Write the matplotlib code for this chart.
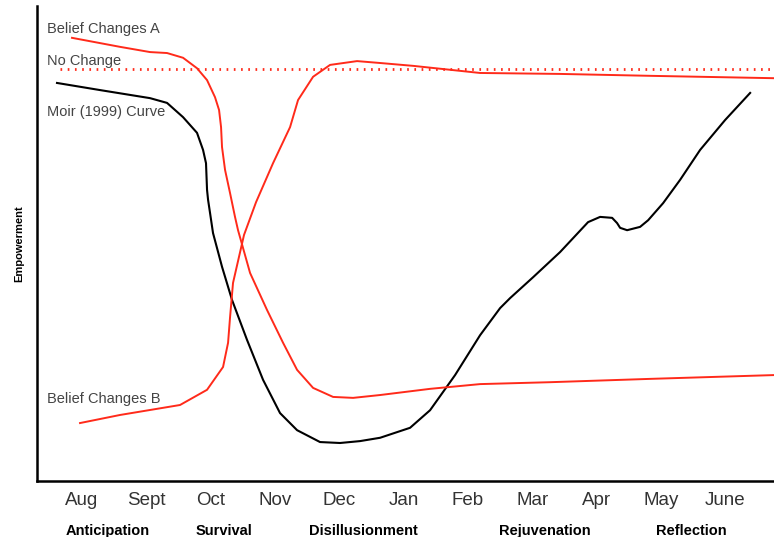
import matplotlib.pyplot as plt
import matplotlib.transforms as mtransforms

plt.rcParams['font.family'] = ['Liberation Sans', 'DejaVu Sans']

# months along the x axis (index 0 = Aug)
months = ['Aug', 'Sept', 'Oct', 'Nov', 'Dec', 'Jan', 'Feb', 'Mar', 'Apr', 'May', 'June']
phases = ['Anticipation', 'Survival', 'Disillusionment', 'Rejuvenation', 'Reflection']
phase_x = [0.40, 2.21, 4.37, 7.19, 9.47]

# Moir (1999) curve
moir_x = [-0.389, 0.280, 1.058, 1.322, 1.571, 1.788, 1.882, 1.928, 1.944, 1.960, 1.991,
          2.037, 2.177, 2.333, 2.566, 2.815, 3.079, 3.344, 3.701, 4.012, 4.323, 4.635,
          5.101, 5.412, 5.801, 6.190, 6.501, 6.656, 7.014, 7.434, 7.869, 8.056, 8.243,
          8.320, 8.367, 8.476, 8.678, 8.803, 9.036, 9.300, 9.611, 10.000, 10.389]
moir_y = [83.8, 82.3, 80.6, 79.6, 76.6, 73.3, 69.7, 66.9, 61.3, 59.2, 56.4,
          52.2, 45.1, 38.1, 29.7, 21.3, 14.3, 10.7, 8.2, 8.0, 8.4, 9.1,
          11.2, 14.9, 22.3, 30.7, 36.4, 38.5, 42.9, 48.2, 54.5, 55.6, 55.4,
          54.3, 53.3, 52.8, 53.5, 54.9, 58.5, 63.4, 69.7, 76.0, 81.7]

# Belief Changes A
a_x = [-0.156, 0.591, 1.058, 1.322, 1.571, 1.788, 1.944, 2.068, 2.131, 2.162, 2.177,
       2.224, 2.302, 2.379, 2.426, 2.613, 2.877, 3.126, 3.344, 3.593, 3.904, 4.215,
       4.635, 5.412, 6.190, 7.278, 8.834, 10.762]
a_y = [93.3, 91.4, 90.3, 90.1, 89.1, 86.9, 84.4, 80.8, 78.1, 74.5, 70.3,
       65.5, 60.6, 55.6, 52.8, 43.8, 36.0, 29.1, 23.4, 19.6, 17.7, 17.5,
       18.1, 19.4, 20.4, 20.8, 21.5, 22.3]

# Belief Changes B
b_x = [-0.031, 0.591, 1.524, 1.944, 2.193, 2.271, 2.302, 2.348, 2.519, 2.706, 2.970,
       3.235, 3.359, 3.593, 3.857, 4.277, 4.635, 5.148, 6.190, 7.434, 8.834, 10.762]
b_y = [12.2, 13.9, 16.0, 19.2, 24.0, 29.1, 34.5, 41.7, 51.8, 58.7, 66.9,
       74.5, 80.2, 85.1, 87.6, 88.4, 88.0, 87.4, 85.9, 85.7, 85.3, 84.8]

# No Change
nc_x = [-0.34, 10.76]
nc_y = [86.7, 86.7]

fig = plt.figure(figsize=(7.74, 5.37), dpi=100)
ax = fig.add_axes([37 / 774, 56 / 537, 737 / 774, 475 / 537])

red = '#ff2a1a'
ax.plot(moir_x, moir_y, color='black', lw=1.5, solid_joinstyle='round')
ax.plot(a_x, a_y, color=red, lw=1.4, solid_joinstyle='round')
ax.plot(b_x, b_y, color=red, lw=1.4, solid_joinstyle='round')
ax.plot(nc_x, nc_y, color=red, lw=2.0, linestyle=(0, (0.6, 2.0)))

ax.set_xlim(-0.70, 10.76)
ax.set_ylim(0, 100)

for s in ['top', 'right']:
    ax.spines[s].set_visible(False)
ax.spines['left'].set_linewidth(1.8)
ax.spines['bottom'].set_linewidth(1.8)

ax.set_xticks(range(len(months)))
ax.set_xticklabels(months, fontsize=13.5, color='#333333')
ax.tick_params(axis='x', length=0, pad=8)
ax.set_yticks([])
ax.set_ylabel('Empowerment', fontsize=8, fontweight='bold', labelpad=9)

trans = mtransforms.blended_transform_factory(ax.transData, fig.transFigure)
for name, px in zip(phases, phase_x):
    ax.text(px, 6 / 537, name, transform=trans, ha='center', va='center',
            fontsize=10.5, fontweight='bold', color='black')

# series labels
lab = dict(fontsize=10.5, color='#444444', ha='left', va='center')
ax.text(-0.55, 95.2, 'Belief Changes A', **lab)
ax.text(-0.55, 88.4, 'No Change', **lab)
ax.text(-0.55, 77.7, 'Moir (1999) Curve', **lab)
ax.text(-0.55, 17.3, 'Belief Changes B', **lab)

fig.savefig('out.png', dpi=100)
